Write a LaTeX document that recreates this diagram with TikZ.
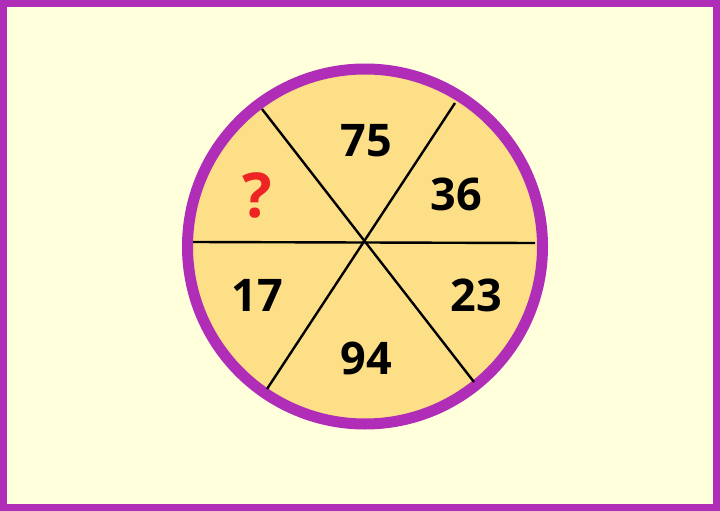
\documentclass[tikz,border=0pt]{standalone}
\usepackage{fontspec}
\setmainfont{Open Sans}
\definecolor{frame}{HTML}{B02DB8}
\definecolor{bg}{HTML}{FFFFDC}
\definecolor{pie}{HTML}{FCDF86}
\definecolor{qred}{HTML}{EE2424}
\tikzset{num/.style={font=\fontsize{45}{45}\selectfont\bfseries, text=black, inner sep=0pt, anchor=center},
  cut/.style={draw=black, line width=2.4pt}}
\begin{document}
\begin{tikzpicture}[x=1pt,y=-1pt]
\useasboundingbox (0,0) rectangle (720,511);
\fill[frame] (0,0) rectangle (720,511);
\fill[bg] (7,7) rectangle (713,504);
\node[circle, fill=pie, draw=frame, line width=11pt, minimum size=355pt, inner sep=0pt] (c) at (365,246.5) {};
\coordinate (a1) at (262,109);
\coordinate (a2) at (474,382);
\coordinate (b1) at (455,103);
\coordinate (b2) at (267,389);
\coordinate (h1) at (193,242);
\coordinate (h2) at (535,243);
\draw[cut] (a1) -- (a2);
\draw[cut] (b1) -- (b2);
\draw[cut] (h1) -- (h2);
\node[num] (n75) at (366,141) {75};
\node[num] (n36) at (456,194) {36};
\node[num] (n23) at (476,295) {23};
\node[num] (n94) at (366,358) {94};
\node[num] (n17) at (257,295) {17};
\node[num, text=qred, font=\fontsize{62}{62}\selectfont\bfseries] (nq) at (257,195) {?};
\end{tikzpicture}
\end{document}
